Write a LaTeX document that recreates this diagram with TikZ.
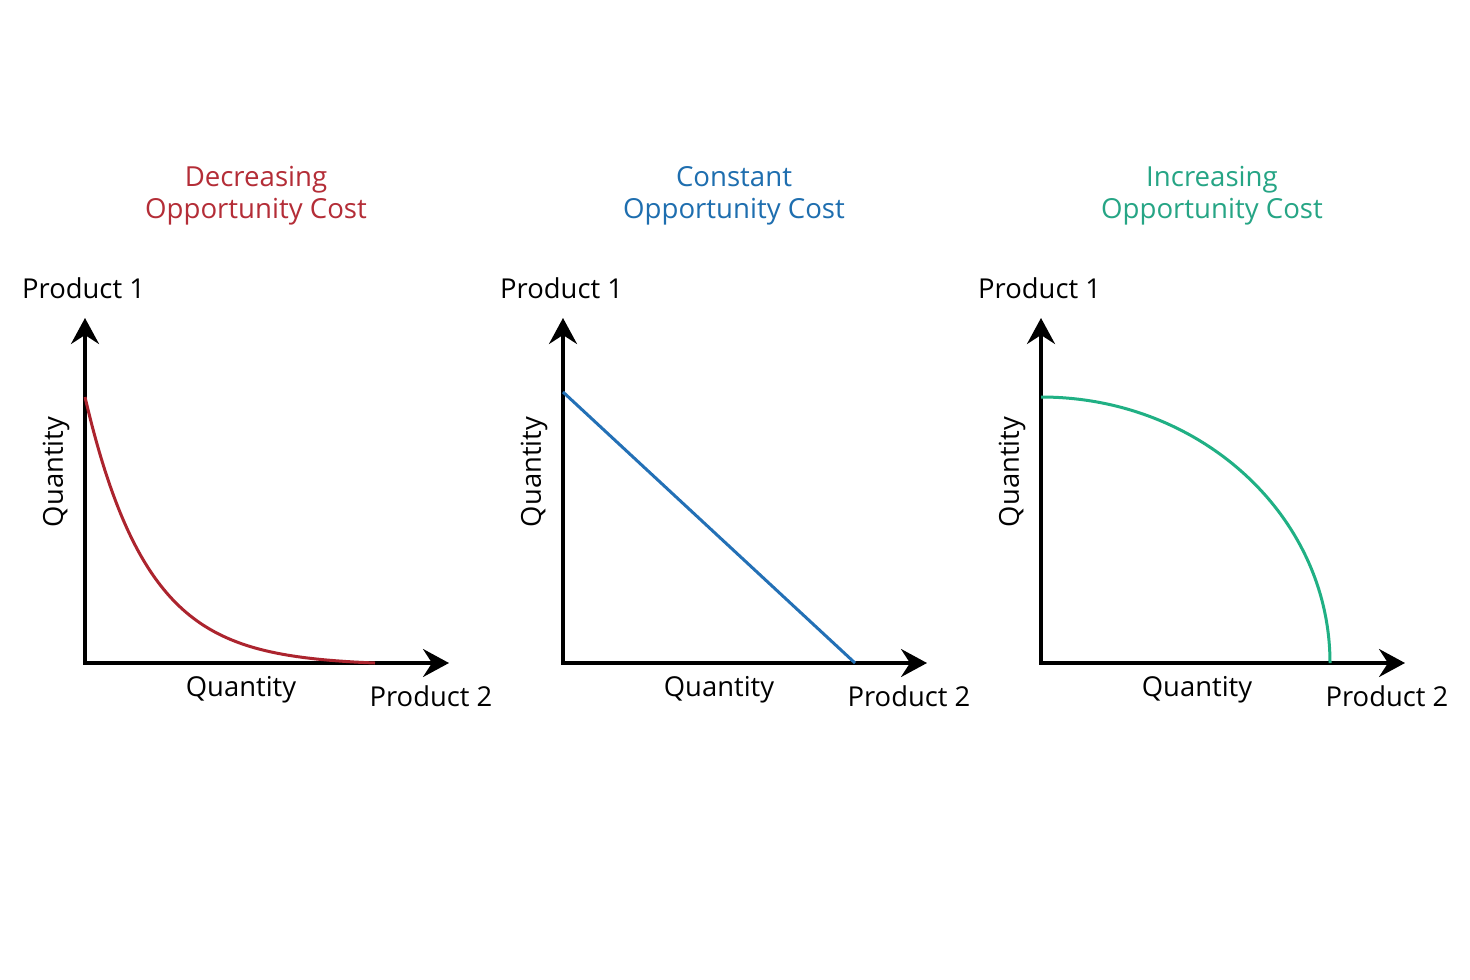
\documentclass[tikz,border=0pt]{standalone}
\usepackage{fontspec}
\setmainfont{Open Sans}
\usetikzlibrary{arrows.meta}
\definecolor{redt}{RGB}{180,45,55}
\definecolor{redc}{RGB}{172,36,46}
\definecolor{bluet}{RGB}{30,110,175}
\definecolor{bluec}{RGB}{35,112,182}
\definecolor{greent}{RGB}{38,165,133}
\definecolor{greenc}{RGB}{32,176,132}
\tikzset{
  axisline/.style={line width=3.5pt, black, line join=miter,
    {Stealth[length=26pt,width=28pt,inset=9pt]}-{Stealth[length=26pt,width=28pt,inset=9pt]}},
  curveline/.style={line width=3pt},
  lbl/.style={inner sep=0pt, font=\fontsize{27.4}{32}\selectfont, text=black},
  ttl/.style={inner sep=0pt, font=\fontsize{27.6}{32}\selectfont, anchor=base},
}
\begin{document}
\begin{tikzpicture}[x=1pt,y=-1pt]
\useasboundingbox[fill=white] (0,0) rectangle (1470,980);
% ---------- chart 1 ----------
\node[ttl, text=redt] (t1a) at (256,186) {Decreasing};
\node[ttl, text=redt] (t1b) at (256,218) {Opportunity Cost};
\node[lbl, anchor=base west] (p1a) at (22,298) {Product 1};
\node[lbl, rotate=90] (q1a) at (56,472) {Quantity};
\node[lbl] (q1b) at (241,690) {Quantity};
\node[lbl] (p1b) at (431,696) {Product 2};
\coordinate (o1) at (85,663);
\coordinate (y1) at (85,318);
\coordinate (x1) at (449,663);
\draw[axisline] (y1) -- (o1) -- (x1);
\draw[curveline, redc] plot[domain=0:290, samples=120, smooth]
  ({85+\x},{663-266*(exp(-0.016*\x)-0.00966)/0.99034});
% ---------- chart 2 ----------
\node[ttl, text=bluet] (t2a) at (734,186) {Constant};
\node[ttl, text=bluet] (t2b) at (734,218) {Opportunity Cost};
\node[lbl, anchor=base west] (p2a) at (500,298) {Product 1};
\node[lbl, rotate=90] (q2a) at (534,472) {Quantity};
\node[lbl] (q2b) at (719,690) {Quantity};
\node[lbl] (p2b) at (909,696) {Product 2};
\coordinate (o2) at (563,663);
\coordinate (y2) at (563,318);
\coordinate (x2) at (927,663);
\coordinate (s2) at (563,392);
\coordinate (e2) at (855,663);
\draw[axisline] (y2) -- (o2) -- (x2);
\draw[curveline, bluec] (s2) -- (e2);
% ---------- chart 3 ----------
\node[ttl, text=greent] (t3a) at (1212,186) {Increasing};
\node[ttl, text=greent] (t3b) at (1212,218) {Opportunity Cost};
\node[lbl, anchor=base west] (p3a) at (978,298) {Product 1};
\node[lbl, rotate=90] (q3a) at (1012,472) {Quantity};
\node[lbl] (q3b) at (1197,690) {Quantity};
\node[lbl] (p3b) at (1387,696) {Product 2};
\coordinate (o3) at (1041,663);
\coordinate (y3) at (1041,318);
\coordinate (x3) at (1405,663);
\coordinate (s3) at (1041,397);
\draw[axisline] (y3) -- (o3) -- (x3);
\draw[curveline, greenc] (s3) arc[start angle=270, end angle=360, x radius=289, y radius=266];
\end{tikzpicture}
\end{document}
